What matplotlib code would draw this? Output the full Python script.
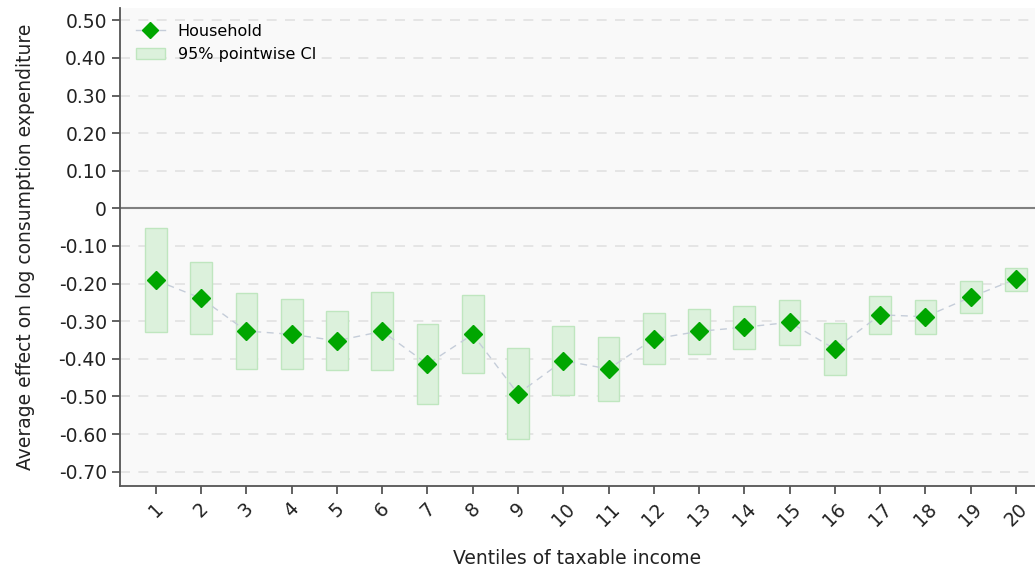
import numpy as np
import matplotlib
matplotlib.use("Agg")
import matplotlib.pyplot as plt
from matplotlib.patches import Patch
from matplotlib.lines import Line2D

ventiles = list(range(1, 21))
effect = [-0.191, -0.239, -0.326, -0.335, -0.352, -0.327, -0.414, -0.335, -0.493, -0.405,
          -0.427, -0.347, -0.327, -0.316, -0.303, -0.374, -0.283, -0.288, -0.236, -0.188]
ci_low = [-0.329, -0.335, -0.426, -0.427, -0.431, -0.431, -0.521, -0.437, -0.613, -0.497,
          -0.511, -0.414, -0.388, -0.373, -0.362, -0.442, -0.334, -0.333, -0.279, -0.219]
ci_high = [-0.052, -0.142, -0.224, -0.242, -0.272, -0.223, -0.307, -0.230, -0.372, -0.313,
           -0.342, -0.279, -0.267, -0.259, -0.244, -0.304, -0.234, -0.244, -0.194, -0.158]
yticks = [0.5, 0.4, 0.3, 0.2, 0.1, 0.0, -0.1, -0.2, -0.3, -0.4, -0.5, -0.6, -0.7]

fig = plt.figure(figsize=(10.35, 5.67), dpi=100)
ax = fig.add_axes([0.116, 0.143, 0.884, 0.843])
ax.set_facecolor("#f9f9f9")

x = np.array(ventiles)
lo = np.array(ci_low)
hi = np.array(ci_high)
ax.bar(x, hi - lo, bottom=lo, width=0.48, color="#dcf1dc", edgecolor="#bfe6bf", linewidth=1, zorder=2)
ax.plot(x, effect, linestyle=(0, (5, 4)), color="#c5cdd9", linewidth=1, zorder=3)
ax.plot(x, effect, linestyle="none", marker="D", markersize=9, color="#00a600", zorder=4)

for t in yticks:
    if t != 0:
        ax.axhline(t, color="#e2e2e2", linestyle=(0, (6, 5)), linewidth=1.2, zorder=1)
ax.axhline(0, color="#808080", linewidth=1.5, zorder=1)

ax.set_xlim(0.21, 20.42)
ax.set_ylim(-0.738, 0.533)
ax.set_yticks(yticks)
ax.set_yticklabels(["0" if t == 0 else f"{t:.2f}" for t in yticks])
ax.set_xticks(ventiles)
ax.set_xticklabels([str(v) for v in ventiles], rotation=45)

for s in ["top", "right"]:
    ax.spines[s].set_visible(False)
for s in ["left", "bottom"]:
    ax.spines[s].set_color("#555555")
    ax.spines[s].set_linewidth(1.3)
ax.tick_params(axis="both", colors="#555555", labelcolor="#222222", labelsize=13.5, length=6, width=1.3)

ax.set_xlabel("Ventiles of taxable income", fontsize=13.5, color="#222222", labelpad=14)
ax.set_ylabel("Average effect on log consumption expenditure", fontsize=13.5, color="#222222", labelpad=17)

handles = [Line2D([0], [0], marker="D", color="#c5cdd9", markerfacecolor="#00a600",
                  markeredgecolor="#00a600", markersize=8, linewidth=1),
           Patch(facecolor="#dcf1dc", edgecolor="#bfe6bf")]
ax.legend(handles, ["Household", "95% pointwise CI"], loc="upper left", frameon=False,
          fontsize=11.5, handlelength=1.8, borderaxespad=0.6)

fig.savefig("out.png", dpi=100)
